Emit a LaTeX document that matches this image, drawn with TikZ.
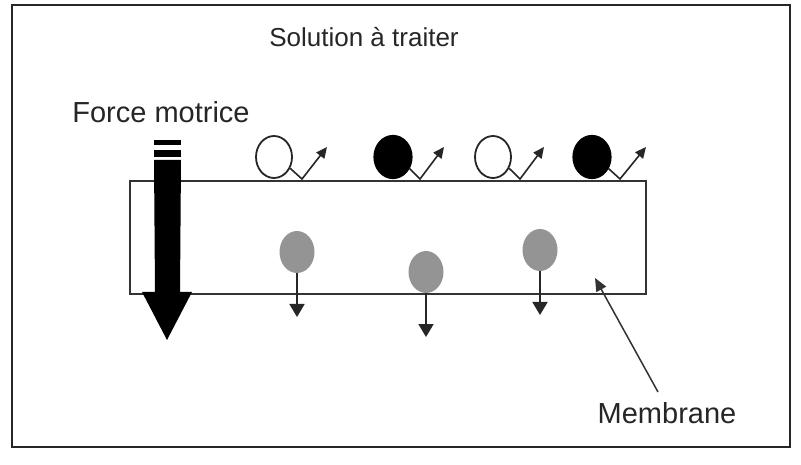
\documentclass[tikz,border=0pt]{standalone}
\usepackage{fontspec}
\setmainfont{Liberation Sans}
\usetikzlibrary{arrows.meta,shapes.geometric}
\begin{document}
\begin{tikzpicture}[x=1pt,y=-1pt,
  lbl/.style={font=\fontsize{26}{30}\selectfont, text=black!85, inner sep=0pt},
  biglbl/.style={font=\fontsize{29}{33}\selectfont, text=black!85, inner sep=0pt},
  open/.style={ellipse, draw=black!85, line width=1.8pt, fill=white, minimum width=36pt, minimum height=42pt, inner sep=0pt},
  full/.style={ellipse, draw=black, line width=1.2pt, fill=black, minimum width=38pt, minimum height=43pt, inner sep=0pt},
  grain/.style={ellipse, fill=black!42, minimum width=35pt, minimum height=42pt, inner sep=0pt},
  vtip/.style={-{Triangle[length=11pt,width=10pt]}, line width=1.6pt, draw=black!85},
  dtip/.style={-{Triangle[length=13pt,width=15pt]}, line width=1.8pt, draw=black!85},
  frame/.style={draw=black!85, line width=2.2pt}]
\useasboundingbox (0,0) rectangle (801,465);
\fill[white] (0,0) rectangle (801,465);
% outer frame
\draw[frame] (12,5) rectangle (790,447);
% membrane
\node[draw=black!80, line width=2pt, minimum width=516pt, minimum height=113pt, inner sep=0pt, anchor=north west] (mem) at (129,180) {};
% labels
\node[lbl] (sol) at (364,37) {Solution à traiter};
\node[biglbl] (force) at (161,112) {Force motrice};
\node[biglbl] (mlabel) at (667,413) {Membrane};
% big arrow
\fill[black] (154,140) rectangle (181,145);
\fill[black] (154,150) rectangle (181,157);
\fill[black] (154,160) -- (181,160) -- (180,292) -- (192,292) -- (167,340) -- (142,292) -- (155,292) -- cycle;
% top particles
\node[open] (p1) at (274,157) {};
\node[full] (p2) at (393,157) {};
\node[open] (p3) at (493,157) {};
\node[full] (p4) at (592,157) {};
\coordinate (v1) at (302,179); \coordinate (t1) at (327,147);
\coordinate (v2) at (420,179); \coordinate (t2) at (444,147);
\coordinate (v3) at (520,179); \coordinate (t3) at (544,147);
\coordinate (v4) at (620,179); \coordinate (t4) at (646,147);
\draw[vtip] (p1.-35) -- (v1) -- (t1);
\draw[vtip] (p2.-35) -- (v2) -- (t2);
\draw[vtip] (p3.-35) -- (v3) -- (t3);
\draw[vtip] (p4.-35) -- (v4) -- (t4);
% grains
\node[grain] (g1) at (297,252) {};
\node[grain] (g2) at (426,272) {};
\node[grain] (g3) at (540,250) {};
\coordinate (d1) at (297,317);
\coordinate (d2) at (426,337);
\coordinate (d3) at (540,315);
\draw[dtip] (g1.south) -- (d1);
\draw[dtip] (g2.south) -- (d2);
\draw[dtip] (g3.south) -- (d3);
% membrane pointer
\coordinate (mp) at (595,278);
\draw[-{Triangle[length=13pt,width=11pt]}, line width=1.5pt, draw=black!80] (658,392) -- (mp);
\end{tikzpicture}
\end{document}
